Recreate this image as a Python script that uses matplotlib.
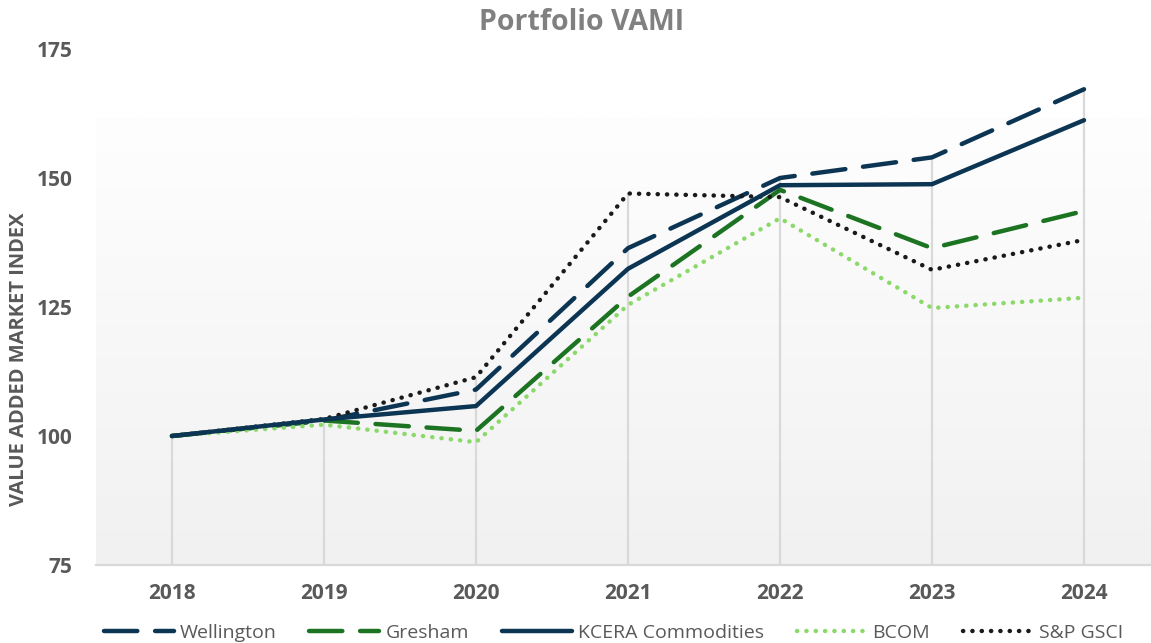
import matplotlib.pyplot as plt
import numpy as np

# Portfolio VAMI data
years = ['2018', '2019', '2020', '2021', '2022', '2023', '2024']
wellington = [100, 103.0, 109.0, 136.4, 150.0, 154.0, 167.2]
gresham = [100, 103.0, 101.0, 127.0, 147.7, 136.4, 143.6]
kcera = [100, 103.2, 105.8, 132.4, 148.6, 148.8, 161.2]
bcom = [100, 102.2, 98.8, 125.4, 142.2, 124.8, 126.8]
gsci = [100, 103.3, 111.4, 147.0, 146.3, 132.2, 138.0]

navy = '#0b3553'
green = '#1c7321'
light_green = '#8cd96b'
dark = '#1a1a1a'
gray_text = '#595959'

plt.rcParams['font.family'] = ['Open Sans', 'DejaVu Sans']

W, H = 1151, 643
fig = plt.figure(figsize=(W / 100, H / 100), dpi=100)
ax = fig.add_axes([96 / W, 1 - 565 / H, (W - 96) / W, (565 - 49) / H])

x = np.arange(len(years))
xmax = (W - 172) / 152
ax.set_xlim(-0.5, xmax)
ax.set_ylim(75, 175)

# light gradient plot area, starting a bit below the top of the axis
cmap = plt.matplotlib.colors.LinearSegmentedColormap.from_list('bg', ['#f1f1f1', '#fefefe'])
grad = np.linspace(0, 1, 256).reshape(-1, 1)
ax.imshow(grad, cmap=cmap, origin='lower', aspect='auto',
          extent=(-0.5, xmax, 75, 161.8), zorder=0)

# drop lines
tops = np.max([wellington, gresham, kcera, bcom, gsci], axis=0)
ax.vlines(x, 75, tops, color='#d9d9d9', lw=1.6, zorder=1)

lw = 3.2
ax.plot(x, wellington, color=navy, lw=lw, dashes=(7.5, 4), dash_capstyle='round', label='Wellington', zorder=3)
ax.plot(x, gresham, color=green, lw=lw, dashes=(7.5, 4), dash_capstyle='round', label='Gresham', zorder=3)
ax.plot(x, kcera, color=navy, lw=lw, solid_capstyle='round', label='KCERA Commodities', zorder=4)
ax.plot(x, bcom, color=light_green, lw=lw, dashes=(0.05, 2.05), dash_capstyle='round', label='BCOM', zorder=3)
ax.plot(x, gsci, color=dark, lw=lw, dashes=(0.05, 2.05), dash_capstyle='round', label='S&P GSCI', zorder=3)

ax.set_xticks(x)
ax.set_xticklabels(years)
ax.set_yticks([75, 100, 125, 150, 175])
ax.tick_params(length=0, labelsize=15, labelcolor=gray_text)
ax.tick_params(axis='x', pad=13)
ax.tick_params(axis='y', pad=17)
for lab in ax.get_xticklabels() + ax.get_yticklabels():
    lab.set_fontweight('bold')

for s in ['top', 'right', 'left']:
    ax.spines[s].set_visible(False)
ax.spines['bottom'].set_color('#d9d9d9')
ax.spines['bottom'].set_linewidth(1.6)

fig.text(19 / W, 1 - 359 / H, 'VALUE ADDED MARKET INDEX', rotation=90, ha='center', va='center',
         fontsize=14.5, fontweight='bold', color=gray_text)
fig.text(582 / W, 1 - 23 / H, 'Portfolio VAMI', ha='center', va='center',
         fontsize=20.5, fontweight='bold', color='#808080')

leg = fig.legend(loc='center', bbox_to_anchor=(0.533, 1 - 633 / H), ncol=5, frameon=False,
                 fontsize=14, handlelength=3.6, columnspacing=1.7, handletextpad=0.3)
for t in leg.get_texts():
    t.set_color(gray_text)

fig.savefig('out.png', dpi=100)
